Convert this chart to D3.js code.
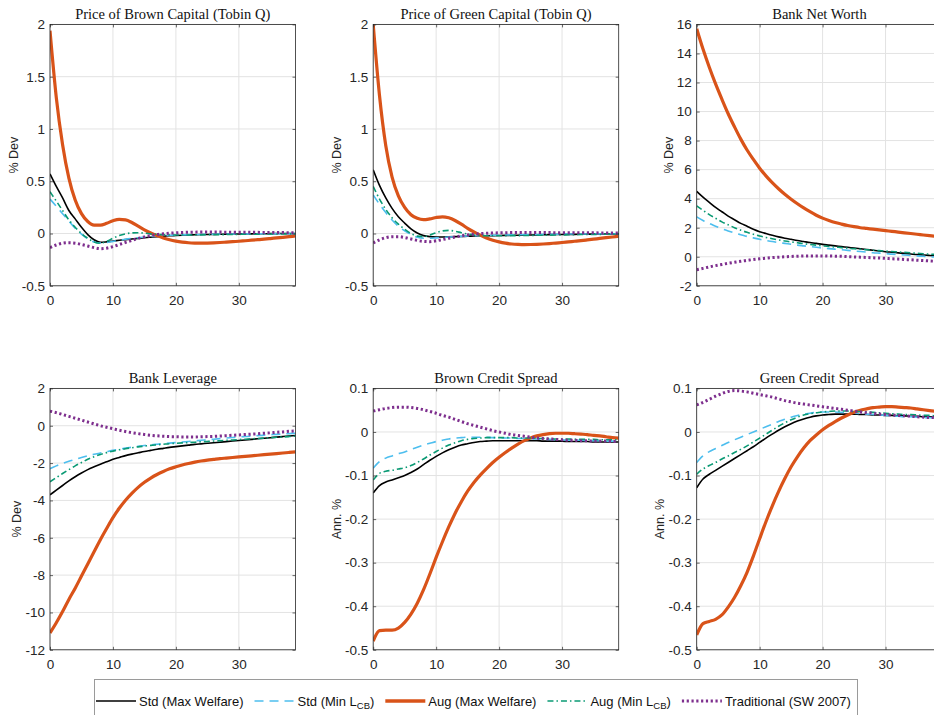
<!DOCTYPE html>
<html>
<head>
<meta charset="utf-8">
<script src="https://cdn.jsdelivr.net/npm/d3@7"></script>
<style>
  body { margin: 0; background: #fff; }
</style>
</head>
<body>
<div id="chart"></div>
<script>
// horizon (quarters) and tick values
const periods = d3.range(0, 40);
const xTicks = [0, 10, 20, 30];
const qTicks = [-0.5, 0, 0.5, 1, 1.5, 2];
const nwTicks = [-2, 0, 2, 4, 6, 8, 10, 12, 14, 16];
const lvTicks = [-12, -10, -8, -6, -4, -2, 0, 2];
const spreadTicks = [-0.5, -0.4, -0.3, -0.2, -0.1, 0, 0.1];

// Price of Brown Capital
const bqStd = [0.57,0.45,0.34,0.22,0.14,0.06,-0.01,-0.06,-0.085,-0.08, -0.072,-0.065,-0.058,-0.052,-0.046,-0.04,-0.035,-0.03,-0.026,-0.022, -0.019,-0.016,-0.014,-0.012,-0.01,-0.009,-0.008,-0.007,-0.006,-0.005, -0.004,-0.003,-0.003,-0.002,-0.002,-0.001,-0.001,0,0,0];
const bqStdMin = [0.33,0.26,0.19,0.12,0.05,-0.005,-0.05,-0.08,-0.09,-0.085, -0.075,-0.065,-0.055,-0.047,-0.04,-0.033,-0.028,-0.024,-0.02,-0.017, -0.015,-0.013,-0.011,-0.01,-0.009,-0.008,-0.007,-0.006,-0.005,-0.005, -0.004,-0.004,-0.003,-0.003,-0.002,-0.002,-0.002,-0.001,-0.001,-0.001];
const bqAug = [1.94,1.3,0.85,0.53,0.32,0.19,0.115,0.08,0.08,0.098, 0.122,0.135,0.13,0.105,0.07,0.035,0.005,-0.02,-0.042,-0.06, -0.073,-0.082,-0.088,-0.091,-0.092,-0.091,-0.089,-0.086,-0.082,-0.078, -0.074,-0.069,-0.064,-0.059,-0.054,-0.048,-0.042,-0.036,-0.03,-0.024];
const bqAugMin = [0.4,0.31,0.22,0.13,0.06,0,-0.045,-0.08,-0.093,-0.075, -0.045,-0.02,-0.003,0.006,0.008,0.004,-0.003,-0.008,-0.011,-0.013, -0.014,-0.014,-0.014,-0.013,-0.013,-0.012,-0.011,-0.011,-0.01,-0.009, -0.008,-0.007,-0.007,-0.006,-0.005,-0.005,-0.004,-0.004,-0.003,-0.003];
const bqTrad = [-0.135,-0.11,-0.093,-0.088,-0.092,-0.105,-0.12,-0.135,-0.145,-0.14, -0.125,-0.105,-0.085,-0.065,-0.047,-0.032,-0.02,-0.01,-0.003,0.003, 0.007,0.01,0.012,0.013,0.014,0.014,0.014,0.014,0.013,0.013, 0.012,0.012,0.011,0.011,0.01,0.01,0.009,0.009,0.008,0.008];

// Price of Green Capital
const gqStd = [0.61,0.46,0.34,0.24,0.16,0.1,0.045,0.005,-0.02,-0.03, -0.033,-0.033,-0.032,-0.03,-0.028,-0.026,-0.024,-0.022,-0.021,-0.02, -0.019,-0.018,-0.017,-0.016,-0.015,-0.014,-0.013,-0.012,-0.011,-0.01, -0.009,-0.008,-0.008,-0.007,-0.006,-0.006,-0.005,-0.005,-0.004,-0.004];
const gqStdMin = [0.37,0.28,0.2,0.13,0.07,0.025,-0.01,-0.035,-0.045,-0.045, -0.042,-0.038,-0.034,-0.03,-0.027,-0.024,-0.022,-0.02,-0.018,-0.016, -0.015,-0.014,-0.013,-0.012,-0.011,-0.01,-0.009,-0.008,-0.007,-0.007, -0.006,-0.005,-0.005,-0.004,-0.004,-0.003,-0.003,-0.002,-0.002,-0.002];
const gqAug = [2.0,1.32,0.84,0.54,0.36,0.25,0.18,0.145,0.132,0.14, 0.153,0.16,0.15,0.125,0.09,0.05,0.015,-0.015,-0.042,-0.064, -0.08,-0.092,-0.1,-0.104,-0.106,-0.105,-0.103,-0.1,-0.096,-0.091, -0.086,-0.08,-0.074,-0.068,-0.061,-0.054,-0.047,-0.04,-0.033,-0.026];
const gqAugMin = [0.45,0.33,0.23,0.15,0.09,0.04,0,-0.025,-0.03,-0.015, 0.008,0.025,0.03,0.022,0.008,-0.005,-0.014,-0.019,-0.021,-0.022, -0.022,-0.021,-0.02,-0.02,-0.019,-0.018,-0.017,-0.016,-0.015,-0.014, -0.013,-0.012,-0.011,-0.01,-0.009,-0.008,-0.008,-0.007,-0.006,-0.006];
const gqTrad = [-0.09,-0.06,-0.04,-0.03,-0.03,-0.038,-0.052,-0.066,-0.076,-0.078, -0.07,-0.058,-0.045,-0.033,-0.022,-0.013,-0.006,-0.001,0.003,0.005, 0.007,0.008,0.009,0.009,0.009,0.009,0.009,0.009,0.009,0.008, 0.008,0.008,0.008,0.007,0.007,0.007,0.006,0.006,0.006,0.006];

// Bank Net Worth
const nwStd = [4.5,4.1,3.75,3.4,3.1,2.8,2.55,2.3,2.1,1.9, 1.73,1.6,1.48,1.37,1.28,1.2,1.12,1.05,0.98,0.92, 0.85,0.8,0.75,0.7,0.65,0.6,0.55,0.5,0.45,0.4, 0.35,0.31,0.27,0.23,0.19,0.15,0.12,0.09,0.06,0.03];
const nwStdMin = [2.75,2.5,2.3,2.1,1.93,1.78,1.64,1.52,1.4,1.3, 1.2,1.12,1.05,0.98,0.92,0.86,0.8,0.75,0.7,0.65, 0.6,0.56,0.52,0.48,0.44,0.4,0.36,0.32,0.28,0.25, 0.22,0.18,0.15,0.12,0.09,0.06,0.03,0,-0.02,-0.04];
const nwAug = [15.7,14.3,13.05,11.9,10.85,9.85,8.95,8.1,7.35,6.7, 6.1,5.57,5.1,4.68,4.3,3.96,3.65,3.36,3.1,2.86, 2.66,2.5,2.36,2.25,2.15,2.07,2.0,1.95,1.9,1.85, 1.8,1.75,1.7,1.65,1.6,1.55,1.5,1.45,1.4,1.35];
const nwAugMin = [3.5,3.2,2.9,2.65,2.4,2.2,2.0,1.83,1.68,1.55, 1.43,1.33,1.24,1.16,1.09,1.02,0.96,0.9,0.85,0.8, 0.75,0.71,0.67,0.63,0.59,0.55,0.52,0.48,0.45,0.42, 0.39,0.36,0.33,0.3,0.27,0.24,0.21,0.18,0.16,0.14];
const nwTrad = [-0.9,-0.8,-0.7,-0.61,-0.53,-0.45,-0.38,-0.31,-0.25,-0.19, -0.14,-0.1,-0.06,-0.03,0,0.02,0.04,0.05,0.06,0.06, 0.06,0.05,0.04,0.03,0.01,-0.01,-0.03,-0.05,-0.07,-0.09, -0.11,-0.14,-0.16,-0.19,-0.21,-0.24,-0.26,-0.29,-0.31,-0.33];

// Bank Leverage
const lvStd = [-3.7,-3.45,-3.2,-2.95,-2.73,-2.53,-2.35,-2.2,-2.06,-1.93, -1.8,-1.7,-1.6,-1.52,-1.45,-1.38,-1.32,-1.26,-1.21,-1.16, -1.12,-1.08,-1.04,-1.0,-0.97,-0.94,-0.91,-0.88,-0.85,-0.82, -0.79,-0.76,-0.73,-0.7,-0.67,-0.64,-0.61,-0.58,-0.55,-0.52];
const lvStdMin = [-2.3,-2.15,-2.02,-1.9,-1.8,-1.7,-1.61,-1.53,-1.46,-1.39, -1.32,-1.26,-1.2,-1.15,-1.1,-1.06,-1.02,-0.99,-0.96,-0.93, -0.9,-0.87,-0.84,-0.81,-0.78,-0.75,-0.72,-0.69,-0.66,-0.63, -0.6,-0.58,-0.56,-0.53,-0.5,-0.48,-0.46,-0.44,-0.42,-0.4];
const lvAug = [-11.1,-10.55,-9.95,-9.3,-8.7,-8.05,-7.4,-6.75,-6.1,-5.5, -4.92,-4.42,-3.99,-3.62,-3.3,-3.03,-2.8,-2.61,-2.45,-2.31, -2.2,-2.1,-2.02,-1.95,-1.89,-1.84,-1.8,-1.76,-1.73,-1.7, -1.67,-1.64,-1.61,-1.58,-1.55,-1.52,-1.49,-1.46,-1.43,-1.4];
const lvAugMin = [-3.0,-2.78,-2.56,-2.35,-2.15,-1.97,-1.8,-1.66,-1.54,-1.44, -1.36,-1.29,-1.23,-1.18,-1.13,-1.09,-1.05,-1.02,-0.99,-0.96, -0.94,-0.92,-0.9,-0.88,-0.86,-0.84,-0.82,-0.8,-0.78,-0.76, -0.74,-0.72,-0.7,-0.68,-0.66,-0.64,-0.62,-0.6,-0.58,-0.56];
const lvTrad = [0.78,0.7,0.6,0.5,0.4,0.3,0.2,0.1,0,-0.08, -0.16,-0.24,-0.31,-0.37,-0.42,-0.47,-0.51,-0.54,-0.56,-0.58, -0.59,-0.6,-0.6,-0.6,-0.59,-0.58,-0.57,-0.55,-0.53,-0.51, -0.49,-0.47,-0.45,-0.43,-0.4,-0.38,-0.35,-0.33,-0.3,-0.28];

// Brown Credit Spread
const bsStd = [-0.14,-0.123,-0.115,-0.11,-0.105,-0.1,-0.093,-0.085,-0.075,-0.065, -0.056,-0.048,-0.041,-0.035,-0.03,-0.027,-0.024,-0.022,-0.021,-0.02, -0.02,-0.02,-0.02,-0.02,-0.02,-0.02,-0.02,-0.021,-0.021,-0.021, -0.021,-0.022,-0.022,-0.022,-0.022,-0.023,-0.023,-0.023,-0.023,-0.023];
const bsStdMin = [-0.083,-0.068,-0.06,-0.055,-0.05,-0.046,-0.04,-0.035,-0.03,-0.026, -0.022,-0.019,-0.016,-0.014,-0.013,-0.012,-0.012,-0.012,-0.012,-0.013, -0.013,-0.014,-0.014,-0.015,-0.015,-0.016,-0.016,-0.017,-0.017,-0.018, -0.018,-0.019,-0.019,-0.019,-0.02,-0.02,-0.02,-0.021,-0.021,-0.021];
const bsAug = [-0.48,-0.456,-0.455,-0.455,-0.45,-0.437,-0.418,-0.393,-0.362,-0.326, -0.288,-0.252,-0.218,-0.187,-0.16,-0.136,-0.116,-0.099,-0.084,-0.07, -0.058,-0.047,-0.037,-0.028,-0.02,-0.014,-0.009,-0.006,-0.004,-0.003, -0.003,-0.003,-0.004,-0.005,-0.006,-0.008,-0.009,-0.011,-0.013,-0.014];
const bsAugMin = [-0.11,-0.095,-0.09,-0.088,-0.085,-0.082,-0.077,-0.07,-0.062,-0.053, -0.045,-0.037,-0.03,-0.025,-0.02,-0.017,-0.015,-0.014,-0.013,-0.013, -0.013,-0.013,-0.013,-0.014,-0.014,-0.014,-0.015,-0.015,-0.015,-0.016, -0.016,-0.016,-0.017,-0.017,-0.017,-0.017,-0.018,-0.018,-0.018,-0.018];
const bsTrad = [0.048,0.051,0.054,0.056,0.057,0.057,0.056,0.054,0.051,0.047, 0.043,0.038,0.034,0.029,0.024,0.019,0.015,0.011,0.007,0.003, 0,-0.003,-0.006,-0.008,-0.01,-0.012,-0.014,-0.015,-0.016,-0.017, -0.018,-0.019,-0.019,-0.02,-0.02,-0.021,-0.021,-0.021,-0.022,-0.022];

// Green Credit Spread
const gsStd = [-0.128,-0.108,-0.097,-0.088,-0.079,-0.07,-0.061,-0.052,-0.043,-0.034, -0.024,-0.014,-0.005,0.004,0.012,0.019,0.025,0.03,0.034,0.037, 0.039,0.04,0.041,0.041,0.041,0.041,0.04,0.04,0.039,0.039, 0.038,0.038,0.037,0.037,0.036,0.036,0.035,0.035,0.035,0.034];
const gsStdMin = [-0.07,-0.055,-0.045,-0.038,-0.031,-0.024,-0.018,-0.012,-0.006,0, 0.006,0.012,0.018,0.024,0.029,0.034,0.038,0.041,0.043,0.045, 0.046,0.046,0.046,0.045,0.044,0.043,0.042,0.041,0.04,0.039, 0.038,0.037,0.036,0.035,0.035,0.034,0.033,0.033,0.032,0.032];
const gsAug = [-0.466,-0.44,-0.435,-0.43,-0.42,-0.402,-0.38,-0.353,-0.322,-0.285, -0.245,-0.206,-0.17,-0.137,-0.107,-0.08,-0.057,-0.037,-0.02,-0.007, 0.005,0.015,0.024,0.032,0.039,0.045,0.05,0.053,0.056,0.057, 0.058,0.058,0.057,0.056,0.055,0.053,0.051,0.049,0.047,0.045];
const gsAugMin = [-0.097,-0.085,-0.077,-0.07,-0.062,-0.055,-0.047,-0.04,-0.032,-0.023, -0.014,-0.005,0.004,0.013,0.021,0.028,0.034,0.039,0.042,0.044, 0.046,0.047,0.048,0.048,0.048,0.047,0.047,0.046,0.045,0.044, 0.043,0.042,0.041,0.04,0.04,0.039,0.038,0.038,0.037,0.037];
const gsTrad = [0.062,0.068,0.075,0.082,0.088,0.093,0.095,0.094,0.092,0.089, 0.086,0.083,0.08,0.076,0.072,0.069,0.066,0.064,0.062,0.06, 0.058,0.056,0.054,0.052,0.05,0.048,0.046,0.044,0.043,0.041, 0.04,0.039,0.038,0.037,0.036,0.035,0.034,0.033,0.033,0.032];

// legend labels (L with subscript CB)
const legendLabels = [
  ['Std (Max Welfare)'],
  ['Std (Min L', 'CB', ')'],
  ['Aug (Max Welfare)'],
  ['Aug (Min L', 'CB', ')'],
  ['Traditional (SW 2007)']
];

const panels = [
  { title: 'Price of Brown Capital (Tobin Q)', ylab: '% Dev', yDomain: [-0.5, 2], yTicks: qTicks, series: [bqStd, bqStdMin, bqAug, bqAugMin, bqTrad] },
  { title: 'Price of Green Capital (Tobin Q)', ylab: '% Dev', yDomain: [-0.5, 2], yTicks: qTicks, series: [gqStd, gqStdMin, gqAug, gqAugMin, gqTrad] },
  { title: 'Bank Net Worth', ylab: '% Dev', yDomain: [-2, 16], yTicks: nwTicks, series: [nwStd, nwStdMin, nwAug, nwAugMin, nwTrad] },
  { title: 'Bank Leverage', ylab: '% Dev', yDomain: [-12, 2], yTicks: lvTicks, series: [lvStd, lvStdMin, lvAug, lvAugMin, lvTrad] },
  { title: 'Brown Credit Spread', ylab: 'Ann. %', yDomain: [-0.5, 0.1], yTicks: spreadTicks, series: [bsStd, bsStdMin, bsAug, bsAugMin, bsTrad] },
  { title: 'Green Credit Spread', ylab: 'Ann. %', yDomain: [-0.5, 0.1], yTicks: spreadTicks, series: [gsStd, gsStdMin, gsAug, gsAugMin, gsTrad] }
];

// line styles, same order as the series
const styles = [
  { color: '#000000', width: 1.6, dash: null },
  { color: '#4DBEEE', width: 1.6, dash: '9,6' },
  { color: '#D95319', width: 3.2, dash: null },
  { color: '#0A9A74', width: 1.6, dash: '6,3,1.5,3' },
  { color: '#7E2F8E', width: 3, dash: '2.2,2.6' }
];

const sans = "'Liberation Sans', Arial, Helvetica, sans-serif";
const serif = "'Liberation Serif', 'Times New Roman', serif";
const axisColor = '#262626';

const W = 934, H = 715;
const pw = 245.5, ph = 261.4;
const colX = [50, 373.2, 696.7];
const rowY = [24.4, 388.4];

const svg = d3.select('#chart').append('svg')
  .attr('width', W)
  .attr('height', H)
  .style('display', 'block');

svg.append('rect').attr('width', W).attr('height', H).attr('fill', '#fff');

const fmt = d => String(+d.toFixed(3));

panels.forEach((p, i) => {
  const left = colX[i % 3], top = rowY[Math.floor(i / 3)];
  const g = svg.append('g').attr('transform', `translate(${left},${top})`);

  const x = d3.scaleLinear().domain([0, 39]).range([0, pw]);
  const y = d3.scaleLinear().domain(p.yDomain).range([ph, 0]);

  // grid
  g.append('g').selectAll('line').data(xTicks).join('line')
    .attr('x1', d => x(d)).attr('x2', d => x(d))
    .attr('y1', 0).attr('y2', ph)
    .attr('stroke', '#e3e3e3').attr('stroke-width', 1);
  g.append('g').selectAll('line').data(p.yTicks).join('line')
    .attr('x1', 0).attr('x2', pw)
    .attr('y1', d => y(d)).attr('y2', d => y(d))
    .attr('stroke', '#e3e3e3').attr('stroke-width', 1);

  // lines
  const clipId = 'clip' + i;
  g.append('clipPath').attr('id', clipId)
    .append('rect').attr('width', pw).attr('height', ph);

  const line = d3.line()
    .x((d, k) => x(periods[k]))
    .y(d => y(d))
    .curve(d3.curveMonotoneX);

  const lines = g.append('g').attr('clip-path', `url(#${clipId})`);
  p.series.forEach((s, k) => {
    const st = styles[k];
    lines.append('path')
      .datum(s)
      .attr('d', line)
      .attr('fill', 'none')
      .attr('stroke', st.color)
      .attr('stroke-width', st.width)
      .attr('stroke-dasharray', st.dash)
      .attr('stroke-linejoin', 'round');
  });

  // axes (inward ticks, box on)
  const styleAxis = sel => {
    sel.select('.domain').remove();
    sel.selectAll('line').attr('stroke', axisColor).attr('stroke-width', 0.7);
    sel.selectAll('text')
      .attr('fill', axisColor)
      .style('font-family', sans)
      .style('font-size', '13.5px');
  };
  const yAxis = g.append('g')
    .call(d3.axisLeft(y).tickValues(p.yTicks).tickFormat(fmt).tickSize(-3).tickPadding(5))
    .call(styleAxis);
  g.append('g').attr('transform', `translate(${pw},0)`)
    .call(d3.axisRight(y).tickValues(p.yTicks).tickFormat('').tickSize(-3))
    .call(styleAxis);
  g.append('g').attr('transform', `translate(0,${ph})`)
    .call(d3.axisBottom(x).tickValues(xTicks).tickFormat(fmt).tickSize(-3).tickPadding(10))
    .call(styleAxis);
  g.append('g')
    .call(d3.axisTop(x).tickValues(xTicks).tickFormat('').tickSize(-3))
    .call(styleAxis);

  g.append('rect')
    .attr('width', pw).attr('height', ph)
    .attr('fill', 'none')
    .attr('stroke', axisColor)
    .attr('stroke-width', 0.8);

  // title
  g.append('text')
    .attr('x', pw / 2).attr('y', -5)
    .attr('text-anchor', 'middle')
    .attr('fill', '#111')
    .style('font-family', serif)
    .style('font-size', '14.5px')
    .text(p.title);

  // y label placed left of the widest tick label
  let maxW = 0;
  yAxis.selectAll('text').each(function () { maxW = Math.max(maxW, this.getComputedTextLength()); });
  const lx = -5 - maxW - 4;
  g.append('text')
    .attr('transform', `translate(${lx},${ph / 2}) rotate(-90)`)
    .attr('text-anchor', 'middle')
    .attr('fill', axisColor)
    .style('font-family', sans)
    .style('font-size', '12.5px')
    .text(p.ylab);
});

// legend
const leg = svg.append('g');
leg.append('rect')
  .attr('x', 94.5).attr('y', 679.5)
  .attr('width', 763).attr('height', 45)
  .attr('fill', '#fff')
  .attr('stroke', '#9a9a9a')
  .attr('stroke-width', 1);

let lxPos = 96;
const ly = 701;
legendLabels.forEach((lab, k) => {
  const st = styles[k];
  leg.append('line')
    .attr('x1', lxPos).attr('x2', lxPos + 40)
    .attr('y1', ly).attr('y2', ly)
    .attr('stroke', st.color)
    .attr('stroke-width', st.width === 3.2 ? 3.6 : st.width)
    .attr('stroke-dasharray', st.dash);
  const t = leg.append('text')
    .attr('x', lxPos + 43).attr('y', ly + 5)
    .attr('fill', '#111')
    .style('font-family', sans)
    .style('font-size', '13px');
  t.append('tspan').text(lab[0]);
  if (lab.length > 1) {
    t.append('tspan').attr('dy', 3).style('font-size', '9.5px').text(lab[1]);
    t.append('tspan').attr('dy', -3).text(lab[2]);
  }
  lxPos += 43 + t.node().getComputedTextLength() + 11;
});
</script>
</body>
</html>
